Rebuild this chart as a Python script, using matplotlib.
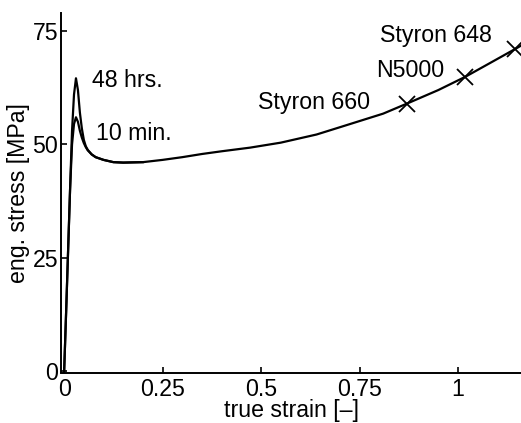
import numpy as np
import matplotlib
matplotlib.use("Agg")
import matplotlib.pyplot as plt

# 48 hrs. aged curve (full length)
strain_48h = [0.0, 0.005, 0.010, 0.015, 0.020, 0.025, 0.030, 0.035, 0.040, 0.045,
              0.050, 0.055, 0.060, 0.070, 0.080, 0.100, 0.125, 0.150, 0.200, 0.250,
              0.300, 0.350, 0.400, 0.472, 0.550, 0.641, 0.700, 0.810, 0.870, 0.950,
              1.018, 1.080, 1.146, 1.170]
stress_48h = [0.0, 13.0, 26.5, 40.0, 53.0, 61.0, 64.6, 62.0, 57.0, 53.5,
              51.0, 49.6, 48.8, 47.8, 47.2, 46.6, 46.1, 46.0, 46.1, 46.6,
              47.2, 47.9, 48.5, 49.3, 50.4, 52.2, 53.8, 56.8, 59.0, 62.0,
              64.9, 67.9, 71.1, 72.3]

# 10 min. aged curve (merges with the other one after yield)
strain_10m = [0.0, 0.005, 0.010, 0.015, 0.020, 0.025, 0.030, 0.035, 0.040, 0.045,
              0.050, 0.055, 0.060, 0.070, 0.080, 0.100, 0.125, 0.150, 0.200]
stress_10m = [0.0, 13.0, 26.5, 40.0, 50.0, 54.5, 56.0, 55.0, 53.0, 51.5,
              50.3, 49.4, 48.7, 47.8, 47.2, 46.6, 46.1, 46.0, 46.1]

# grades marked on the curve
grades = ["Styron 660", "N5000", "Styron 648"]
grade_strain = [0.870, 1.018, 1.146]
grade_stress = [59.0, 64.9, 71.1]

fs = 16.7
plt.rcParams['font.family'] = ['Liberation Sans', 'DejaVu Sans']
plt.rcParams['font.size'] = fs

fig = plt.figure(figsize=(5.21, 4.23), dpi=100)
ax = fig.add_axes([61 / 521, 1 - 372.5 / 423, 460 / 521, 359.5 / 423])

ax.plot(strain_10m, stress_10m, color='k', lw=1.6)
ax.plot(strain_48h, stress_48h, color='k', lw=1.6)
ax.plot(grade_strain, grade_stress, 'kx', ms=11, mew=1.3)

# curve labels
ax.text(0.070, 62.6, "48 hrs.", ha='left', va='baseline')
ax.text(0.081, 50.9, "10 min.", ha='left', va='baseline')
label_pos = [(0.491, 57.9), (0.792, 64.9), (0.802, 72.7)]
for name, (lx, ly) in zip(grades, label_pos):
    ax.text(lx, ly, name, ha='left', va='baseline')

ax.set_xlim(-0.008, 1.16)
ax.set_ylim(-0.3, 79.0)
ax.set_xticks([0, 0.25, 0.5, 0.75, 1])
ax.set_xticklabels(["0", "0.25", "0.5", "0.75", "1"])
ax.set_yticks([0, 25, 50, 75])

ax.spines['top'].set_visible(False)
ax.spines['right'].set_visible(False)
ax.spines['left'].set_linewidth(1.4)
ax.spines['bottom'].set_linewidth(1.4)
ax.tick_params(direction='in', length=4, width=1.2, labelsize=fs)
ax.tick_params(axis='y', pad=2)
ax.tick_params(axis='x', pad=4)

ax.set_xlabel("true strain [–]", fontsize=fs)
ax.set_ylabel("eng. stress [MPa]", fontsize=fs)
ax.xaxis.set_label_coords(0.5, -0.073)
ax.yaxis.set_label_coords(-0.068, 0.5)

fig.savefig("out.png", dpi=100)
